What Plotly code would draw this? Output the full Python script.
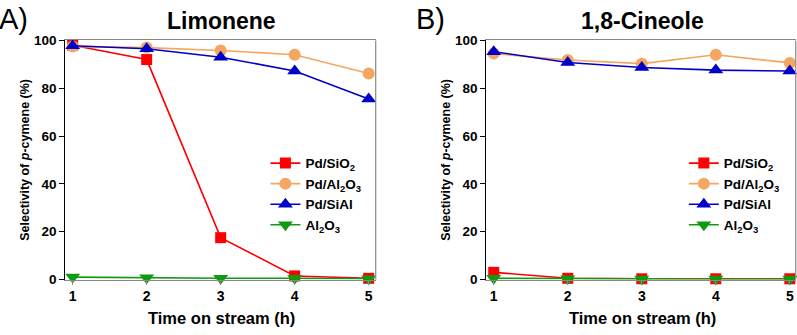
import plotly.graph_objects as go

hours = [1, 2, 3, 4, 5]
series_names = ["Pd/SiO<sub>2</sub>", "Pd/Al<sub>2</sub>O<sub>3</sub>", "Pd/SiAl", "Al<sub>2</sub>O<sub>3</sub>"]

# Panel A: Limonene
lim_pd_sio2 = [98.0, 92.0, 17.5, 1.5, 0.5]
lim_pd_al2o3 = [97.5, 97.0, 95.8, 94.0, 86.2]
lim_pd_sial = [97.8, 96.5, 93.0, 87.2, 75.5]
lim_al2o3 = [1.0, 0.7, 0.5, 0.5, 0.3]

# Panel B: 1,8-Cineole
cin_pd_sio2 = [3.0, 0.5, 0.3, 0.3, 0.3]
cin_pd_al2o3 = [94.5, 91.8, 90.3, 94.0, 90.6]
cin_pd_sial = [95.3, 90.8, 88.7, 87.6, 87.2]
cin_al2o3 = [0.5, 0.3, 0.2, 0.2, 0.2]

y_ticks = [0, 20, 40, 60, 80, 100]
x_ticks = [1, 2, 3, 4, 5]

colors = ["#ff0000", "#f5a660", "#0000c8", "#109a10"]
symbols = ["square", "circle", "triangle-up", "triangle-down"]
sizes = [11, 12, 13, 13]

FONT = "Liberation Sans, Arial, sans-serif"

fig = go.Figure()

panels = [
    ([lim_pd_sio2, lim_pd_al2o3, lim_pd_sial, lim_al2o3], "x", "y", "legend"),
    ([cin_pd_sio2, cin_pd_al2o3, cin_pd_sial, cin_al2o3], "x2", "y2", "legend2"),
]
for data, xa, ya, leg in panels:
    for name, vals, c, s, sz in zip(series_names, data, colors, symbols, sizes):
        fig.add_trace(go.Scatter(
            x=hours, y=vals, name=name, mode="lines+markers",
            line=dict(color=c, width=1.6),
            marker=dict(symbol=s, size=sz, color=c, line=dict(width=0)),
            xaxis=xa, yaxis=ya, legend=leg, cliponaxis=False,
        ))

ydom = [0.1484, 0.8955]
xdom1 = [0.0819, 0.4714]
xdom2 = [0.6102, 0.9984]

xfont = dict(family=FONT, size=14, color="black", weight="bold")
yfont = dict(family=FONT, size=13.5, color="black", weight="bold")
xcommon = dict(tickvals=x_ticks, ticks="outside", ticklen=4,
               tickcolor="#888888", showline=True, linecolor="#888888", linewidth=1.2,
               mirror=True, showgrid=False, zeroline=False, tickfont=xfont)
ycommon = dict(range=[0, 100], tickvals=y_ticks, ticks="outside", ticklen=5,
               tickcolor="black", showline=True, linecolor="black", linewidth=1.2,
               showgrid=False, zeroline=False, tickfont=yfont)

legcommon = dict(font=dict(family=FONT, size=13.5, color="black", weight="bold"),
                 bgcolor="rgba(0,0,0,0)", xanchor="left", yanchor="top",
                 tracegroupgap=0, itemwidth=30)

fig.update_layout(
    width=797, height=335,
    margin=dict(l=0, r=0, t=0, b=0),
    paper_bgcolor="white", plot_bgcolor="white",
    font=dict(family=FONT, color="black"),
    xaxis=dict(domain=xdom1, anchor="y", range=[0.9, 5.095], **xcommon),
    yaxis=dict(domain=ydom, anchor="x", **ycommon),
    xaxis2=dict(domain=xdom2, anchor="y2", range=[0.9, 5.08], **xcommon),
    yaxis2=dict(domain=ydom, anchor="x2", **ycommon),
    legend=dict(x=0.333, y=0.56, **legcommon),
    legend2=dict(x=0.858, y=0.56, **legcommon),
)

# right frame lines (gray)
for xr, yr in [("x domain", "y domain"), ("x2 domain", "y2 domain")]:
    fig.add_shape(type="line", xref=xr, yref=yr, x0=1, x1=1, y0=0, y1=1,
                  line=dict(color="#888888", width=1.2))

bold = dict(family=FONT, color="black", weight="bold")
annots = [
    dict(text="A)", x=-3 / 797, y=1 - 13 / 335, xanchor="left", font=dict(family=FONT, size=29, color="black")),
    dict(text="B)", x=414 / 797, y=1 - 13 / 335, xanchor="left", font=dict(family=FONT, size=29, color="black")),
    dict(text="Limonene", x=221 / 797, y=1 - 15 / 335, font=dict(size=23, **bold)),
    dict(text="1,8-Cineole", x=642 / 797, y=1 - 15 / 335, font=dict(size=23, **bold)),
    dict(text="Time on stream (h)", x=221 / 797, y=1 - 326 / 335, font=dict(size=16.5, **bold)),
    dict(text="Time on stream (h)", x=642 / 797, y=1 - 326 / 335, font=dict(size=16.5, **bold)),
    dict(text="Selectivity of <i>p</i>-cymene (%)", x=25 / 797, y=1 - 160 / 335, textangle=-90, font=dict(size=12.5, **bold)),
    dict(text="Selectivity of <i>p</i>-cymene (%)", x=446 / 797, y=1 - 160 / 335, textangle=-90, font=dict(size=12.5, **bold)),
]
for a in annots:
    a.setdefault("xanchor", "center")
    fig.add_annotation(xref="paper", yref="paper", yanchor="middle", showarrow=False, **a)

fig.write_html("out.html", config={"displayModeBar": False},
               post_script="document.body.style.margin='0';document.body.style.overflow='hidden';")
